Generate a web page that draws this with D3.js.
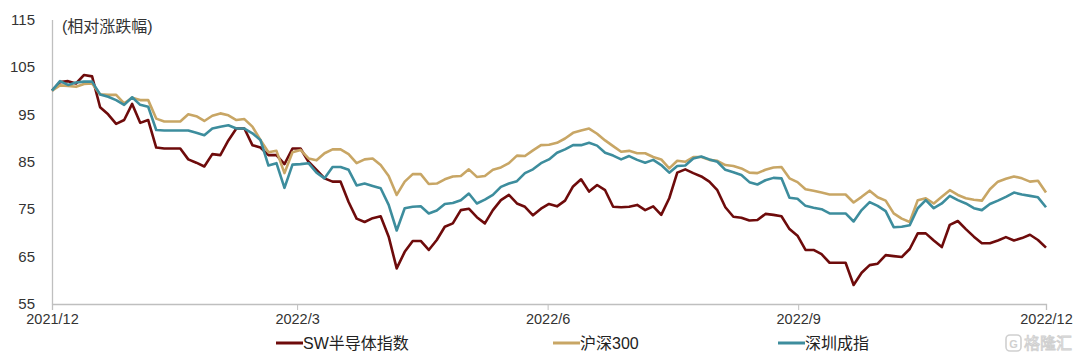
<!DOCTYPE html>
<html>
<head>
<meta charset="utf-8">
<script src="https://cdn.jsdelivr.net/npm/d3@7"></script>
<style>
  body { margin: 0; background: #fff; }
  svg { display: block; font-family: "Liberation Sans", Arial, "Noto Sans CJK SC", sans-serif; }
</style>
</head>
<body>
<div id="chart"></div>
<script>
var sw = [100.0, 101.8, 102.0, 101.5, 103.3, 103.0, 96.5, 95.0, 93.0, 93.8,
  97.2, 93.2, 93.8, 88.0, 87.8, 87.8, 87.8, 85.5, 84.8, 84.0,
  86.6, 86.4, 89.5, 92.0, 92.0, 88.5, 88.0, 86.4, 86.4, 84.5,
  87.8, 87.8, 85.0, 83.3, 81.5, 80.8, 80.8, 76.5, 73.0, 72.3,
  73.1, 73.5, 69.2, 62.5, 66.0, 68.3, 68.3, 66.4, 68.5, 71.3,
  72.0, 74.8, 75.1, 73.3, 72.0, 74.8, 76.9, 78.0, 76.2, 75.5,
  73.7, 75.1, 76.1, 75.6, 76.8, 79.8, 81.3, 78.7, 80.1, 79.0,
  75.5, 75.4, 75.5, 75.9, 74.8, 75.6, 73.8, 77.3, 82.7, 83.4,
  82.6, 81.9, 80.8, 79.0, 75.4, 73.4, 73.2, 72.6, 72.7, 74.0,
  73.8, 73.5, 70.8, 69.4, 66.4, 66.4, 65.5, 63.7, 63.7, 63.7,
  59.0, 61.6, 63.2, 63.5, 65.3, 65.1, 64.9, 66.6, 69.9, 69.9,
  68.4, 67.0, 71.7, 72.5, 70.8, 69.2, 67.8, 67.8, 68.4, 69.1,
  68.4, 68.9, 69.6, 68.5, 66.9];

var hs300 = [100.0, 101.1, 101.0, 100.8, 101.4, 101.5, 99.2, 99.1, 99.1, 97.3,
  98.5, 98.0, 98.0, 94.1, 93.5, 93.5, 93.5, 95.0, 94.6, 93.6,
  94.7, 95.2, 94.8, 93.8, 94.0, 92.4, 89.6, 87.0, 87.3, 82.6,
  87.0, 87.5, 85.7, 85.3, 86.8, 87.6, 87.6, 86.6, 84.7, 85.5,
  85.7, 84.3, 82.0, 78.0, 80.8, 82.4, 82.4, 80.3, 80.4, 81.3,
  81.9, 82.0, 83.4, 81.8, 82.0, 83.3, 83.8, 84.7, 86.3, 86.2,
  87.4, 88.5, 88.6, 89.0, 89.9, 91.1, 91.6, 92.0, 90.9, 89.5,
  88.3, 87.1, 87.3, 86.8, 86.8, 86.0, 85.5, 83.6, 85.2, 85.0,
  86.0, 86.0, 85.4, 85.2, 84.3, 84.1, 83.6, 82.7, 82.6, 83.3,
  83.8, 83.9, 81.5, 80.7, 79.2, 78.9, 78.5, 78.1, 78.1, 78.1,
  76.4, 77.6, 78.9, 77.5, 76.8, 74.1, 73.0, 72.3, 76.9, 77.3,
  76.2, 77.6, 79.0, 78.0, 77.3, 77.0, 76.8, 79.2, 80.8, 81.4,
  81.9, 81.5, 80.8, 81.0, 78.5];

var szcz = [100.0, 102.0, 101.2, 101.7, 101.9, 101.9, 99.2, 98.7, 98.0, 97.0,
  98.6, 97.0, 96.6, 91.7, 91.6, 91.6, 91.6, 91.6, 91.1, 90.6,
  92.0, 92.4, 92.7, 92.0, 92.0, 91.0, 89.6, 84.2, 84.7, 79.5,
  84.4, 84.5, 84.7, 82.7, 81.5, 83.9, 83.9, 83.3, 80.0, 80.4,
  79.9, 79.4, 75.9, 70.5, 75.2, 75.5, 75.6, 74.1, 74.7, 76.1,
  76.3, 76.9, 78.3, 76.2, 77.0, 78.0, 79.7, 80.4, 80.9, 82.6,
  83.4, 84.7, 85.5, 86.9, 87.6, 88.5, 88.5, 89.0, 88.4, 86.9,
  86.3, 85.5, 86.2, 85.4, 84.8, 85.4, 84.3, 82.7, 84.1, 84.2,
  85.7, 86.1, 85.5, 85.0, 83.3, 82.8, 82.2, 80.7, 80.2, 81.1,
  81.6, 81.5, 77.4, 77.2, 75.7, 75.3, 75.0, 74.1, 74.1, 74.1,
  72.4, 74.8, 76.5, 75.7, 74.6, 71.2, 71.3, 71.6, 75.2, 76.9,
  75.2, 76.2, 77.8, 76.9, 76.2, 75.2, 74.8, 76.1, 76.8, 77.6,
  78.5, 78.1, 77.8, 77.5, 75.4];

var seriesNames = ["SW半导体指数", "沪深300", "深圳成指"];
var colors = ["#6e0b0b", "#c8a665", "#3d8d9d"];
var yTicks = [55, 65, 75, 85, 95, 105, 115];
var xTickDates = [new Date(2021, 11, 1), new Date(2022, 2, 1), new Date(2022, 5, 1),
  new Date(2022, 8, 1), new Date(2022, 11, 1)];
var xTickLabels = ["2021/12", "2022/3", "2022/6", "2022/9", "2022/12"];

var width = 1080, height = 360;
var startDate = xTickDates[0], endDate = xTickDates[4];

var svg = d3.select("#chart").append("svg").attr("width", width).attr("height", height);

var x = d3.scaleTime().domain([startDate, endDate]).range([52, 1046]);
var y = d3.scaleLinear().domain([55, 115]).range([304, 19.5]);

// each sample sits at an even step between the first and last day
var step = (endDate - startDate) / (sw.length - 1);
function dateAt(i) { return new Date(startDate.getTime() + i * step); }

// y axis
var yAxis = svg.append("g").attr("transform", "translate(52,0)")
  .call(d3.axisLeft(y).tickValues(yTicks).tickSize(0).tickPadding(17));
yAxis.select(".domain").attr("stroke", "#bfbfbf").attr("stroke-width", 1.3);
yAxis.selectAll("text").attr("font-size", 15).attr("fill", "#333");

// x axis
var xAxis = svg.append("g").attr("transform", "translate(0,304)")
  .call(d3.axisBottom(x).tickValues(xTickDates).tickSize(6).tickPadding(4)
    .tickFormat(function(d, i) { return xTickLabels[i]; }));
xAxis.select(".domain").attr("stroke", "#bfbfbf").attr("stroke-width", 1.3);
xAxis.selectAll("line").attr("stroke", "#bfbfbf");
xAxis.selectAll("text").attr("font-size", 14.5).attr("fill", "#333");

svg.append("text").attr("x", 62).attr("y", 32).attr("font-size", 16).attr("fill", "#333")
  .text("(相对涨跌幅)");

// lines
var line = d3.line()
  .x(function(d, i) { return x(dateAt(i)); })
  .y(function(d) { return y(d); });

[sw, hs300, szcz].forEach(function(s, k) {
  svg.append("path").datum(s)
    .attr("fill", "none")
    .attr("stroke", colors[k])
    .attr("stroke-width", 2.6)
    .attr("stroke-linejoin", "round")
    .attr("d", line);
});

// legend
var legendX = [276, 553, 778];
var legend = svg.selectAll(".legend").data(seriesNames).enter().append("g")
  .attr("transform", function(d, i) { return "translate(" + legendX[i] + ",343)"; });
legend.append("line").attr("x1", 0).attr("x2", 27).attr("y1", 0).attr("y2", 0)
  .attr("stroke", function(d, i) { return colors[i]; }).attr("stroke-width", 3);
legend.append("text").attr("x", 27).attr("y", 6).attr("font-size", 16).attr("fill", "#222")
  .text(function(d) { return d; });

// watermark
var wm = svg.append("g").attr("opacity", 0.55);
wm.append("rect").attr("x", 1006).attr("y", 335).attr("width", 15).attr("height", 16).attr("rx", 4)
  .attr("fill", "none").attr("stroke", "#aaa").attr("stroke-width", 1.6);
wm.append("text").attr("x", 1013.5).attr("y", 348).attr("text-anchor", "middle").attr("font-size", 11)
  .attr("font-weight", "bold").attr("fill", "#aaa").text("G");
wm.append("text").attr("x", 1024).attr("y", 349).attr("font-size", 16).attr("fill", "none")
  .attr("stroke", "#aaa").attr("stroke-width", 0.9).text("格隆汇");
</script>
</body>
</html>
